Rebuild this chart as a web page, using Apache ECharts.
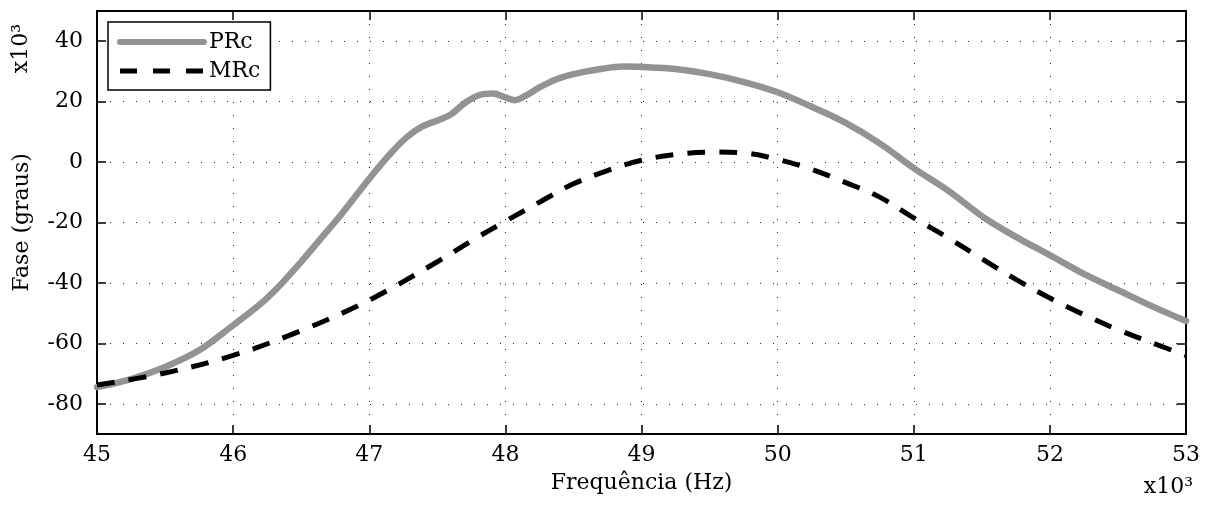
<!DOCTYPE html>
<html>
<head>
<meta charset="utf-8">
<script src="https://cdn.jsdelivr.net/npm/echarts@6/dist/echarts.min.js"></script>
<style>
html,body{margin:0;padding:0;background:#fff;}
#chart{width:1211px;height:509px;}
</style>
</head>
<body>
<div id="chart"></div>
<script>
// Frequency (x10^3 Hz) and phase (degrees)
const prcFreq = [45, 45.25, 45.5, 45.75, 46, 46.2, 46.35, 46.5, 46.65, 46.8, 47, 47.15, 47.27, 47.39, 47.52, 47.6, 47.71, 47.81, 47.91, 48, 48.07, 48.15, 48.25, 48.38, 48.5, 48.7, 48.87, 49, 49.25, 49.5, 49.76, 50, 50.23, 50.49, 50.75, 51, 51.27, 51.52, 51.78, 52, 52.25, 52.51, 52.74, 53];
const prcPhase = [-74.5, -71.8, -67.8, -62.3, -54, -47, -40.5, -33, -25, -17, -5.5, 2.5, 8, 11.8, 14.1, 15.8, 19.8, 22.2, 22.7, 21.4, 20.5, 22, 24.7, 27.5, 29.1, 30.8, 31.6, 31.5, 30.8, 29.1, 26.4, 23.1, 18.7, 13.2, 6.2, -2, -10, -18.5, -25.5, -30.8, -37, -42.6, -47.5, -52.6];

const mrcFreq = [45, 45.5, 46, 46.5, 47, 47.5, 47.76, 48, 48.25, 48.5, 48.75, 49, 49.25, 49.5, 49.75, 50, 50.25, 50.5, 50.75, 51, 51.25, 51.5, 51.75, 52, 52.25, 52.5, 52.75, 53];
const mrcPhase = [-73.8, -69.8, -64, -55.8, -45.7, -33, -25.8, -19.6, -13.3, -7.2, -2.8, 0.6, 2.5, 3.3, 3, 0.9, -2.4, -6.8, -11.6, -18.5, -25, -32, -38.8, -45, -50.5, -55.5, -59.8, -64];

const xTicks = [45, 46, 47, 48, 49, 50, 51, 52, 53];
const yTicks = [-80, -60, -40, -20, 0, 20, 40];

const FONT = 'DejaVu Serif';
const FS = 22;
const GRAY = '#939393';

const chart = echarts.init(document.getElementById('chart'), null, {renderer: 'canvas'});

const commonX = {
  type: 'value', min: 45, max: 53, interval: 1,
  axisLine: {show: true, onZero: false, lineStyle: {color: '#000', width: 2}},
  axisTick: {show: true, inside: true, length: 9, lineStyle: {color: '#000', width: 1.5}}
};
const commonY = {
  type: 'value', min: -90, max: 50,
  axisLine: {show: true, onZero: false, lineStyle: {color: '#000', width: 2}},
  axisTick: {show: true, inside: true, length: 9, customValues: yTicks, lineStyle: {color: '#000', width: 1.5}}
};

const option = {
  backgroundColor: '#fff',
  animation: false,
  textStyle: {fontFamily: FONT},
  grid: {left: 97, right: 25, top: 11, bottom: 75, containLabel: false},
  legend: {
    show: true,
    left: 108, top: 22,
    orient: 'vertical',
    backgroundColor: '#fff',
    borderColor: '#000', borderWidth: 1.5,
    padding: [9, 10, 8, 9],
    itemGap: 7,
    itemWidth: 84, itemHeight: 22,
    itemStyle: {opacity: 0},
    textStyle: {fontFamily: FONT, fontSize: FS, color: '#000'},
    data: [
      {name: 'PRc', itemStyle: {opacity: 0}, lineStyle: {color: GRAY, width: 6, type: 'solid'}},
      {name: 'MRc', itemStyle: {opacity: 0}, lineStyle: {color: '#000', width: 5, type: [17, 16]}}
    ]
  },
  xAxis: [
    Object.assign({}, commonX, {
      position: 'bottom',
      name: 'Frequência (Hz)', nameLocation: 'middle', nameGap: 38,
      nameTextStyle: {fontFamily: FONT, fontSize: FS, color: '#000'},
      axisLabel: {show: true, margin: 10, fontFamily: FONT, fontSize: FS, color: '#000', customValues: xTicks},
      splitLine: {show: true, lineStyle: {color: '#222', width: 1, type: [1, 12]}}
    }),
    Object.assign({}, commonX, {
      position: 'top',
      axisLabel: {show: false},
      splitLine: {show: false}
    })
  ],
  yAxis: [
    Object.assign({}, commonY, {
      position: 'left',
      name: 'Fase (graus)', nameLocation: 'middle', nameGap: 64, nameRotate: 90,
      nameTextStyle: {fontFamily: FONT, fontSize: FS, color: '#000'},
      axisLabel: {show: true, margin: 14, fontFamily: FONT, fontSize: FS, color: '#000', customValues: yTicks},
      splitLine: {show: true, lineStyle: {color: '#222', width: 1, type: [1, 12]}}
    }),
    Object.assign({}, commonY, {
      position: 'right',
      axisLabel: {show: false},
      splitLine: {show: false}
    })
  ],
  graphic: [
    {type: 'text', left: 10, top: 24, rotation: Math.PI / 2,
     style: {text: 'x10³', font: FS + 'px "' + FONT + '"', fill: '#000'},
     originX: 0, originY: 0},
    {type: 'text', right: 18, top: 476,
     style: {text: 'x10³', font: FS + 'px "' + FONT + '"', fill: '#000'}}
  ],
  series: [
    {
      name: 'PRc', type: 'line', xAxisIndex: 0, yAxisIndex: 0,
      data: prcFreq.map((f, i) => [f, prcPhase[i]]),
      showSymbol: false, symbol: 'none', smooth: 0.35,
      lineStyle: {color: GRAY, width: 6.5, cap: 'round', join: 'round'},
      itemStyle: {color: GRAY},
      z: 3
    },
    {
      name: 'MRc', type: 'line', xAxisIndex: 0, yAxisIndex: 0,
      data: mrcFreq.map((f, i) => [f, mrcPhase[i]]),
      showSymbol: false, symbol: 'none', smooth: 0.35,
      lineStyle: {color: '#000', width: 5, type: [18, 14]},
      itemStyle: {color: '#000'},
      z: 4
    }
  ]
};
chart.setOption(option);
</script>
</body>
</html>
